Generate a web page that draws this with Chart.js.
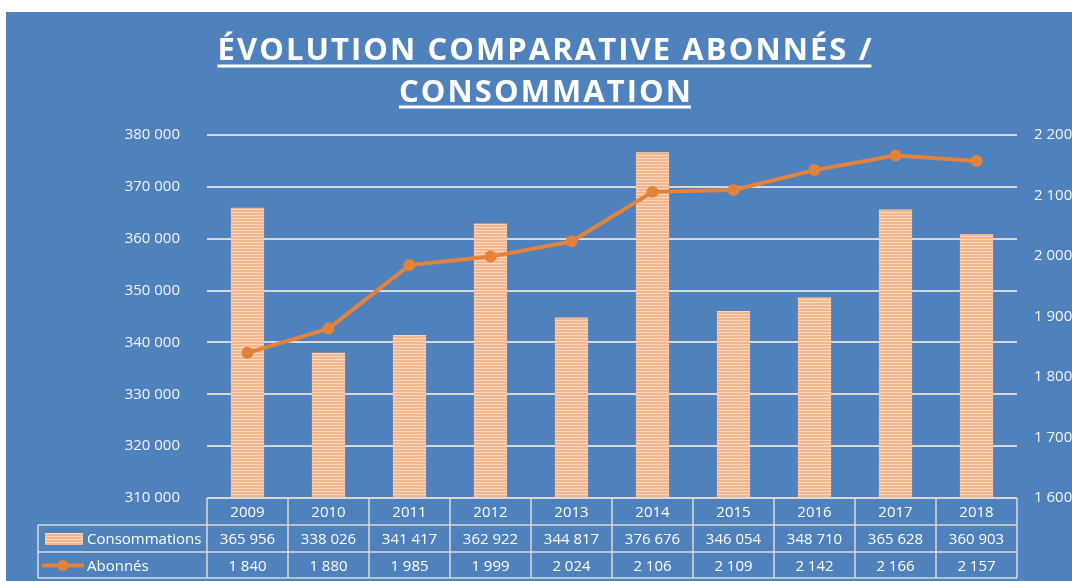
<!DOCTYPE html>
<html><head><meta charset="utf-8">
<script src="https://cdn.jsdelivr.net/npm/chart.js@4/dist/chart.umd.min.js"></script>
<style>html,body{margin:0;padding:0;background:#fff;}#wrap{width:1072px;height:581px;position:relative;}</style>
</head><body><div id="wrap"><canvas id="c"></canvas></div>
<script>
const years = ['2009','2010','2011','2012','2013','2014','2015','2016','2017','2018'];
const consommations = [365956, 338026, 341417, 362922, 344817, 376676, 346054, 348710, 365628, 360903];
const abonnes = [1840, 1880, 1985, 1999, 2024, 2106, 2109, 2142, 2166, 2157];
const seriesNames = ['Consommations', 'Abonnés'];
const titleLines = ['ÉVOLUTION COMPARATIVE ABONNÉS /', 'CONSOMMATION'];
const leftAxis = {min: 310000, max: 380000, step: 10000};
const rightAxis = {min: 1600, max: 2200, step: 100};

const BLUE = '#4F81BD', GRID = '#D9D9D9', TXT = '#F4F4F4', ORANGE = '#E3823B';
const FONT = '"Open Sans", sans-serif';

function fmt(n){ return String(n).replace(/\B(?=(\d{3})+(?!\d))/g, ' '); }

const canvas = document.getElementById('c');
const ctx0 = canvas.getContext('2d');
function makeStripes(){
  const p = document.createElement('canvas'); p.width = 4; p.height = 3;
  const g = p.getContext('2d');
  g.fillStyle = '#F5B58D'; g.fillRect(0,0,4,2);
  g.fillStyle = '#FBD8C2'; g.fillRect(0,2,4,1);
  return ctx0.createPattern(p, 'repeat');
}
const stripes = makeStripes();

const decor = {
  id: 'decor',
  beforeDraw(chart){
    const c = chart.ctx;
    c.save();
    c.fillStyle = '#FFFFFF'; c.fillRect(0,0,chart.width,chart.height);
    c.fillStyle = BLUE; c.fillRect(6,12,chart.width-6,chart.height-12);
    c.restore();
  },
  afterDraw(chart){
    const c = chart.ctx, a = chart.chartArea, xs = chart.scales.x;
    c.save();
    // Title
    c.font = 'bold 31px ' + FONT;
    c.fillStyle = '#FFFFFF';
    c.textAlign = 'left'; c.textBaseline = 'alphabetic';
    const tl = [{cx:545.5, base:60, w:656, uy:66},{cx:546, base:102, w:294, uy:107}];
    titleLines.forEach((t,i)=>{
      const s = tl[i];
      c.letterSpacing = '0px';
      const w0 = c.measureText(t).width;
      const ls = (s.w - w0) / t.length;
      c.letterSpacing = ls + 'px';
      const x0 = s.cx - s.w/2;
      c.fillText(t, x0, s.base);
      c.fillRect(x0, s.uy - 1.5, s.w - ls, 3);
    });
    c.letterSpacing = '0px';
    // Data table
    const n = years.length;
    const colW = (a.right - a.left) / n;
    const top = a.bottom, rh = 27, bottom = top + 3*rh - 1, left = 38;
    c.strokeStyle = GRID; c.lineWidth = 1.5;
    c.beginPath();
    c.moveTo(a.left, top); c.lineTo(a.right, top);
    [top+rh, top+2*rh, bottom].forEach(y=>{ c.moveTo(left,y); c.lineTo(a.right,y); });
    c.moveTo(left, top+rh); c.lineTo(left, bottom);
    for(let i=0;i<=n;i++){ const x = a.left + i*colW; c.moveTo(x, top); c.lineTo(x, bottom); }
    c.stroke();
    c.font = '15px ' + FONT; c.fillStyle = '#FFFFFF';
    c.textAlign = 'center'; c.textBaseline = 'middle';
    for(let i=0;i<n;i++){
      const x = xs.getPixelForValue(i);
      c.fillText(years[i], x, top + rh/2 + 1);
      c.fillText(fmt(consommations[i]), x, top + rh*1.5 + 1);
      c.fillText(fmt(abonnes[i]), x, top + rh*2.5 + 1);
    }
    // row headers + keys
    c.textAlign = 'left';
    c.fillText(seriesNames[0], 87, top + rh*1.5 + 1);
    c.fillText(seriesNames[1], 87, top + rh*2.5 + 1);
    c.fillStyle = stripes;
    c.fillRect(45, top + rh + 8, 38, 12);
    c.strokeStyle = ORANGE; c.lineWidth = 4;
    c.beginPath(); c.moveTo(42, top + rh*2.5); c.lineTo(84, top + rh*2.5); c.stroke();
    c.fillStyle = ORANGE; c.beginPath(); c.arc(63, top + rh*2.5, 5.5, 0, Math.PI*2); c.fill();
    c.restore();
  }
};

new Chart(canvas, {
  data: {
    labels: years,
    datasets: [
      {type:'line', label: seriesNames[1], data: abonnes, yAxisID:'y1', order:0,
       borderColor: ORANGE, backgroundColor: ORANGE, borderWidth: 4, tension: 0,
       pointRadius: 6, pointBackgroundColor: ORANGE, pointBorderColor: ORANGE, pointBorderWidth: 0},
      {type:'bar', label: seriesNames[0], data: consommations, yAxisID:'y', order:1,
       backgroundColor: stripes, borderWidth: 0, barPercentage: 0.41, categoryPercentage: 1}
    ]
  },
  options: {
    responsive: true, maintainAspectRatio: false, animation: false,
    layout: {padding: {top: 135, bottom: 83, left: 0, right: 0}},
    plugins: {legend:{display:false}, tooltip:{enabled:false}, title:{display:false}},
    scales: {
      x: {display: false, offset: true},
      y: {position:'left', min: leftAxis.min, max: leftAxis.max,
          ticks:{stepSize: leftAxis.step, color: TXT, font:{family: FONT, size: 15}, padding: 27, callback: v=>fmt(v)},
          grid:{color: GRID, lineWidth: 2, drawTicks: false}, border:{display:false},
          afterFit(s){ s.width = 207; }},
      y1: {position:'right', min: rightAxis.min, max: rightAxis.max,
          ticks:{stepSize: rightAxis.step, color: TXT, font:{family: FONT, size: 15}, padding: 17, callback: v=>fmt(v)},
          grid:{display:false, drawTicks:false}, border:{display:false},
          afterFit(s){ s.width = 55; }}
    }
  },
  plugins: [decor]
});
</script></body></html>
